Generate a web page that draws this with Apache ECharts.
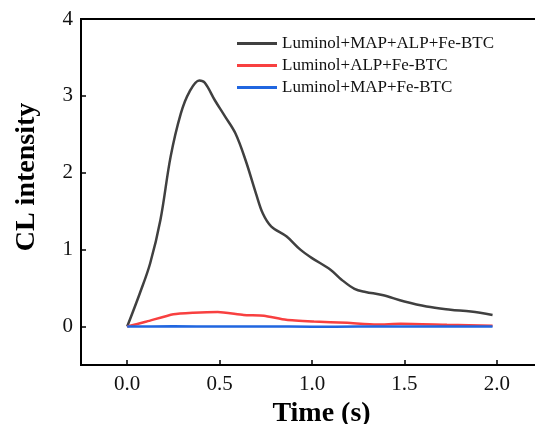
<!DOCTYPE html>
<html>
<head>
<meta charset="utf-8">
<script src="https://cdn.jsdelivr.net/npm/echarts@6/dist/echarts.min.js"></script>
<style>html,body{margin:0;padding:0;background:#fff}#c{width:535px;height:424px}</style>
</head>
<body>
<div id="c"></div>
<script>
var seriesNames = ['Luminol+MAP+ALP+Fe-BTC', 'Luminol+ALP+Fe-BTC', 'Luminol+MAP+Fe-BTC'];
var blackTime  = [0, 0.068, 0.124, 0.18, 0.235, 0.29, 0.336, 0.39, 0.42, 0.475, 0.53, 0.586, 0.641, 0.697, 0.734, 0.78, 0.863, 0.937, 1.0, 1.10, 1.16, 1.23, 1.29, 1.38, 1.50, 1.62, 1.75, 1.86, 1.977];
var blackValue = [0, 0.43, 0.82, 1.39, 2.21, 2.77, 3.05, 3.20, 3.17, 2.94, 2.73, 2.51, 2.16, 1.73, 1.47, 1.30, 1.17, 1.00, 0.89, 0.74, 0.61, 0.49, 0.45, 0.41, 0.325, 0.26, 0.22, 0.195, 0.15];
var redTime  = [0, 0.105, 0.25, 0.357, 0.49, 0.63, 0.74, 0.86, 1.01, 1.19, 1.35, 1.48, 1.73, 1.977];
var redValue = [0, 0.065, 0.16, 0.18, 0.19, 0.15, 0.14, 0.087, 0.065, 0.048, 0.026, 0.035, 0.022, 0.01];
var blueTime  = [0, 0.25, 0.5, 0.75, 1.0, 1.25, 1.5, 1.75, 1.977];
var blueValue = [0, 0.003, 0.0, 0.002, -0.003, 0.0, 0.0, 0.002, 0.0];
var xTicks = [0, 0.5, 1.0, 1.5, 2.0];
var yTicks = [0, 1, 2, 3, 4];

function pairs(t, v) { return t.map(function (x, i) { return [x, v[i]]; }); }

var font = 'Liberation Serif';
var chart = echarts.init(document.getElementById('c'), null, {renderer: 'canvas'});
chart.setOption({
  animation: false,
  grid: {left: 81, top: 19, width: 462, height: 346, show: true, borderColor: '#000', borderWidth: 2,
         backgroundColor: 'transparent', containLabel: false, outerBoundsMode: 'none'},
  legend: {
    orient: 'vertical', left: 232, top: 30, itemWidth: 40, itemHeight: 3, itemGap: 5, icon: 'rect',
    textStyle: {fontFamily: font, fontSize: 17, color: '#111', lineHeight: 14},
    data: seriesNames
  },
  xAxis: {
    type: 'value', min: -0.25, max: 2.25,
    name: 'Time (s)', nameLocation: 'middle', nameGap: 31,
    nameTextStyle: {fontFamily: font, fontSize: 28, fontWeight: 'bold', color: '#000', padding: [0, 0, 0, 19]},
    axisLine: {show: true, onZero: false, lineStyle: {color: '#000', width: 2}},
    axisTick: {show: true, inside: true, length: 5, customValues: xTicks, lineStyle: {color: '#000', width: 1.5}},
    axisLabel: {customValues: xTicks, margin: 9, fontFamily: font, fontSize: 21, color: '#111', formatter: function (v) { return v.toFixed(1); }},
    splitLine: {show: false}
  },
  yAxis: {
    type: 'value', min: -0.5, max: 4,
    name: 'CL intensity', nameLocation: 'middle', nameGap: 40,
    nameTextStyle: {fontFamily: font, fontSize: 28, fontWeight: 'bold', color: '#000', padding: [0, 0, 0, 30]},
    axisLine: {show: true, onZero: false, lineStyle: {color: '#000', width: 2}},
    axisTick: {show: true, inside: true, length: 5, customValues: yTicks, lineStyle: {color: '#000', width: 1.5}},
    axisLabel: {customValues: yTicks, margin: 8, fontFamily: font, fontSize: 21, color: '#111'},
    splitLine: {show: false}
  },
  series: [
    {name: seriesNames[0], type: 'line', data: pairs(blackTime, blackValue), smooth: 0.35, symbol: 'none', lineStyle: {color: '#404040', width: 2.5}, itemStyle: {color: '#404040'}},
    {name: seriesNames[1], type: 'line', data: pairs(redTime, redValue), smooth: 0.2, symbol: 'none', lineStyle: {color: '#f84040', width: 2.5}, itemStyle: {color: '#f84040'}},
    {name: seriesNames[2], type: 'line', data: pairs(blueTime, blueValue), smooth: 0.2, symbol: 'none', lineStyle: {color: '#2066e0', width: 2.5}, itemStyle: {color: '#2066e0'}}
  ]
});
</script>
</body>
</html>
